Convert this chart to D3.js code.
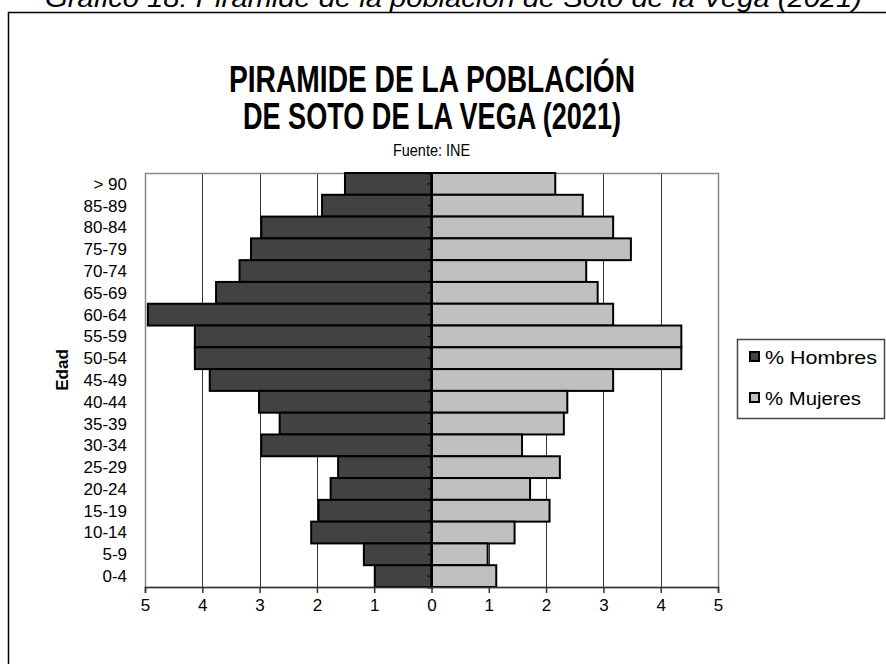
<!DOCTYPE html>
<html>
<head>
<meta charset="utf-8">
<script src="https://cdn.jsdelivr.net/npm/d3@7"></script>
<style>
  body { margin: 0; background: #fff; }
  svg text { font-family: "Liberation Sans", Arial, sans-serif; fill: #000; }
</style>
</head>
<body>
<div id="chart"></div>
<script>
// age groups, top to bottom
const ageGroups = ["> 90", "85-89", "80-84", "75-79", "70-74", "65-69", "60-64", "55-59",
  "50-54", "45-49", "40-44", "35-39", "30-34", "25-29", "20-24", "15-19", "10-14", "5-9", "0-4"];
const hombres = [1.51, 1.91, 2.97, 3.15, 3.35, 3.76, 4.95, 4.13,
  4.13, 3.87, 3.01, 2.65, 2.97, 1.63, 1.76, 1.97, 2.10, 1.18, 0.99];
const mujeres = [2.16, 2.64, 3.17, 3.48, 2.70, 2.90, 3.17, 4.36,
  4.36, 3.17, 2.37, 2.31, 1.58, 2.24, 1.72, 2.06, 1.45, 0.98, 1.13];
const xTicks = [-5, -4, -3, -2, -1, 0, 1, 2, 3, 4, 5];
const seriesNames = ["% Hombres", "% Mujeres"];
const seriesColors = ["#424242", "#c0c0c0"];

const W = 886, H = 664;
const plot = { left: 145, right: 718, top: 173, bottom: 587 };

const svg = d3.select("#chart").append("svg")
  .attr("width", W).attr("height", H);

svg.append("rect").attr("width", W).attr("height", H).attr("fill", "#fff");

// caption above the figure (cut off at the top, as in the source page)
svg.append("text")
  .attr("x", 45).attr("y", 7)
  .attr("font-size", 26).attr("font-style", "italic")
  .attr("textLength", 817).attr("lengthAdjust", "spacingAndGlyphs")
  .text("Gráfico 18: Pirámide de la población de Soto de la Vega (2021)");

// outer frame
svg.append("rect")
  .attr("x", 8.5).attr("y", 12.5).attr("width", 900).attr("height", 700)
  .attr("fill", "none").attr("stroke", "#000").attr("stroke-width", 1.5);

// titles
svg.append("text")
  .attr("x", 229).attr("y", 92)
  .attr("font-size", 37).attr("font-weight", "bold")
  .attr("textLength", 406).attr("lengthAdjust", "spacingAndGlyphs")
  .text("PIRAMIDE DE LA POBLACIÓN");
svg.append("text")
  .attr("x", 243).attr("y", 129)
  .attr("font-size", 37).attr("font-weight", "bold")
  .attr("textLength", 378).attr("lengthAdjust", "spacingAndGlyphs")
  .text("DE SOTO DE LA VEGA (2021)");
svg.append("text")
  .attr("x", 393).attr("y", 156)
  .attr("font-size", 16)
  .attr("textLength", 77).attr("lengthAdjust", "spacingAndGlyphs")
  .text("Fuente: INE");

// scales
const x = d3.scaleLinear().domain([-5, 5]).range([plot.left, plot.right]);
const y = d3.scaleBand().domain(ageGroups).range([plot.top, plot.bottom]).padding(0);

// grid lines
svg.append("g")
  .selectAll("line")
  .data(xTicks.filter((t) => Math.abs(t) !== 5 && t !== 0))
  .enter().append("line")
  .attr("x1", (d) => Math.round(x(d)) + 0.5).attr("x2", (d) => Math.round(x(d)) + 0.5)
  .attr("y1", plot.top).attr("y2", plot.bottom)
  .attr("stroke", "#333").attr("stroke-width", 1);

// plot area border
svg.append("rect")
  .attr("x", plot.left + 0.5).attr("y", plot.top + 0.5)
  .attr("width", plot.right - plot.left).attr("height", plot.bottom - plot.top)
  .attr("fill", "none").attr("stroke", "#888").attr("stroke-width", 1.5);

// bars
const data = ageGroups.map((g, i) => ({ g: g, h: hombres[i], m: mujeres[i] }));

svg.append("g").selectAll("rect")
  .data(data).enter().append("rect")
  .attr("x", (d) => x(-d.h)).attr("width", (d) => x(0) - x(-d.h))
  .attr("y", (d) => y(d.g)).attr("height", y.bandwidth())
  .attr("fill", seriesColors[0]).attr("stroke", "#000").attr("stroke-width", 2);

svg.append("g").selectAll("rect")
  .data(data).enter().append("rect")
  .attr("x", x(0)).attr("width", (d) => x(d.m) - x(0))
  .attr("y", (d) => y(d.g)).attr("height", y.bandwidth())
  .attr("fill", seriesColors[1]).attr("stroke", "#000").attr("stroke-width", 2);

// category axis at zero
const yAxis = svg.append("g")
  .attr("transform", `translate(${x(0)},0)`)
  .call(d3.axisLeft(y).tickSize(4).tickFormat(""));
yAxis.select(".domain").attr("stroke", "#000").attr("stroke-width", 2);
yAxis.selectAll(".tick line").attr("stroke", "#000");

// category labels on the left
svg.append("g").selectAll("text")
  .data(ageGroups).enter().append("text")
  .attr("x", 127).attr("y", (d) => y(d) + y.bandwidth() / 2)
  .attr("dy", "0.35em").attr("text-anchor", "end")
  .attr("font-size", 17)
  .text((d) => d);

// value axis
const xAxis = svg.append("g")
  .attr("transform", `translate(0,${plot.bottom})`)
  .call(d3.axisBottom(x).tickValues(xTicks).tickSize(6).tickPadding(6)
    .tickFormat((d) => Math.abs(d)));
xAxis.select(".domain").attr("stroke", "#333").attr("stroke-width", 1.5);
xAxis.selectAll(".tick line").attr("stroke", "#333").attr("stroke-width", 1.5);
xAxis.selectAll(".tick text")
  .attr("font-size", 17).attr("font-family", "Liberation Sans, Arial, sans-serif").attr("fill", "#000");

// axis title
svg.append("text")
  .attr("transform", "translate(68,370) rotate(-90)")
  .attr("text-anchor", "middle")
  .attr("font-size", 17).attr("font-weight", "bold")
  .text("Edad");

// legend
const legend = svg.append("g");
legend.append("rect")
  .attr("x", 737.5).attr("y", 339.5).attr("width", 147).attr("height", 79)
  .attr("fill", "#fff").attr("stroke", "#444").attr("stroke-width", 1.5);
const items = legend.selectAll(".item")
  .data(seriesNames).enter().append("g")
  .attr("transform", (d, i) => `translate(750,${357 + i * 41})`);
items.append("rect")
  .attr("x", 0).attr("y", -5).attr("width", 9).attr("height", 9)
  .attr("fill", (d, i) => seriesColors[i]).attr("stroke", "#000").attr("stroke-width", 2);
items.append("text")
  .attr("x", 15).attr("dy", "0.35em")
  .attr("font-size", 19)
  .attr("textLength", (d, i) => (i === 0 ? 112 : 96)).attr("lengthAdjust", "spacingAndGlyphs")
  .text((d) => d);
</script>
</body>
</html>
